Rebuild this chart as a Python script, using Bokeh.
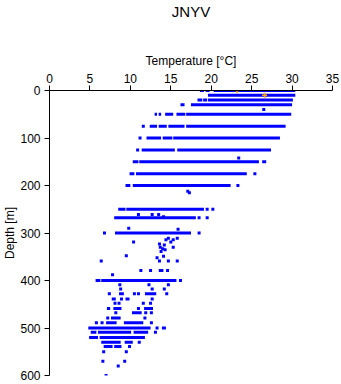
from bokeh.plotting import figure
from bokeh.models import Range1d, LinearAxis, FixedTicker
from bokeh.embed import file_html
from bokeh.resources import INLINE

# Row segments (depth [m], temperature start, temperature end) [°C]
seg_depth = [0, 0, 0, 10, 20, 20, 20, 30, 30,
             50, 50, 50, 50, 50,
             75, 75, 75, 75,
             100, 100, 100,
             125, 125,
             150, 150, 150,
             175, 175,
             200, 200,
             250, 250,
             268,
             300,
             400, 400,
             428, 428, 439, 439, 459, 459, 459, 468, 479, 489, 489,
             500, 500,
             509, 509, 509,
             520, 520,
             530, 530, 539, 539]
seg_tmin = [18.6, 19.3, 20.3, 19.6, 18.3, 19.0, 19.6, 16.2, 17.5,
            13.0, 13.5, 14.3, 15.7, 16.9,
            12.4, 13.5, 14.7, 16.9,
            12.0, 14.0, 15.3,
            11.4, 15.8,
            10.3, 11.1, 26.3,
            9.9, 10.7,
            9.4, 10.3,
            8.5, 9.5,
            8.0,
            8.1,
            5.7, 6.4,
            8.6, 11.8, 7.7, 9.4, 7.1, 7.9, 11.7, 10.2, 7.6, 7.0, 9.2,
            4.8, 13.9,
            5.1, 6.0, 10.4,
            4.9, 6.2,
            6.4, 9.3, 6.7, 8.0]
seg_tmax = [19.1, 19.8, 30.4, 30.4, 18.9, 19.5, 30.1, 16.7, 30.0,
            13.3, 13.8, 15.3, 16.8, 29.9,
            13.3, 14.5, 16.7, 29.2,
            13.8, 15.2, 28.5,
            15.5, 27.4,
            11.0, 25.9, 26.8,
            10.5, 24.4,
            10.0, 22.4,
            9.4, 19.1,
            18.1,
            17.5,
            6.3, 15.7,
            9.2, 13.2, 8.2, 9.9, 7.5, 8.9, 12.8, 11.4, 8.8, 8.3, 11.6,
            12.5, 14.4,
            5.8, 10.1, 12.2,
            6.0, 11.8,
            8.8, 10.3, 7.8, 8.9]

# Individual observations (depth [m], temperature [°C])
pt_depth = [40, 142, 75, 100, 125, 175, 200, 212, 215, 250, 250,
            261, 261, 261, 266, 268, 268, 290, 292, 300, 300,
            319, 348, 359,
            323, 330, 339, 333, 325, 314, 311, 319, 314, 311, 330, 335, 349, 352, 359, 359, 359,
            379, 379, 379, 379, 379, 388, 400,
            409, 409, 409, 418, 418, 418, 428, 428, 428, 428,
            439, 439, 448, 448, 448, 448, 459, 468, 468, 468, 479, 479,
            489, 489, 489, 500, 509, 530, 539, 550, 550, 570, 570, 580, 600]
pt_temp = [26.5, 23.4, 11.6, 11.2, 10.9, 25.4, 23.3, 17.1, 17.3, 19.5, 20.2,
           11.0, 12.7, 13.5, 14.1, 18.5, 19.5, 9.8, 15.9, 6.8, 18.5,
           10.4, 9.5, 6.4,
           13.6, 13.7, 13.8, 14.0, 14.2, 14.4, 14.7, 15.0, 15.3, 15.8, 15.3, 14.3, 14.1, 13.3, 13.6, 14.7, 15.8,
           11.3, 12.5, 13.7, 13.9, 14.6, 7.8, 16.2,
           8.7, 12.3, 14.7, 8.8, 12.7, 14.2, 7.4, 10.5, 11.0, 14.5,
           8.9, 12.7, 8.1, 8.6, 11.6, 12.5, 11.0, 8.2, 11.9, 12.6, 7.2, 11.8,
           5.8, 6.5, 12.6, 13.3, 13.1, 11.1, 9.9, 6.7, 9.5, 6.6, 9.3, 8.5, 7.0]

# Highlighted observations
hl_depth = [0, 10]
hl_temp = [23.2, 26.6]

x_ticks = [0, 5, 10, 15, 20, 25, 30, 35]
y_ticks = [0, 100, 200, 300, 400, 500, 600]

FONT = "Liberation Sans"
BLUE = "#0000FF"

p = figure(width=341, height=384, output_backend="svg", toolbar_location=None,
           x_range=Range1d(0, 35), y_range=Range1d(600, 0),
           x_axis_location=None, y_axis_location=None,
           min_border_left=48, min_border_right=9, min_border_top=90, min_border_bottom=9)
p.outline_line_color = None
p.grid.visible = False
p.background_fill_color = "white"
p.border_fill_color = "white"

p.title.text = "JNYV"
p.title.align = "center"
p.title.vertical_align = "top"
p.title.text_font = FONT
p.title.text_font_size = "15px"
p.title.text_font_style = "normal"
p.title.text_color = "black"
p.title.standoff = 4
p.title.padding = (0, 0, 0, 27)

xa = LinearAxis(axis_label="Temperature [°C]", ticker=FixedTicker(ticks=x_ticks))
ya = LinearAxis(axis_label="Depth [m]", ticker=FixedTicker(ticks=y_ticks))
for ax in (xa, ya):
    ax.axis_label_text_font = FONT
    ax.axis_label_text_font_size = "12px"
    ax.axis_label_text_font_style = "normal"
    ax.axis_label_text_color = "black"
    ax.major_label_text_font = FONT
    ax.major_label_text_font_size = "12px"
    ax.major_label_text_color = "black"
    ax.axis_line_color = "black"
    ax.major_tick_line_color = "black"
    ax.major_tick_out = 5
    ax.major_tick_in = 0
    ax.minor_tick_line_color = None
xa.axis_label_standoff = 3
xa.major_label_standoff = 3
ya.axis_label_standoff = 0
ya.major_label_standoff = 4
p.add_layout(xa, "above")
p.add_layout(ya, "left")

p.segment(x0=seg_tmin, y0=seg_depth, x1=seg_tmax, y1=seg_depth,
          line_color=BLUE, line_width=3)
p.scatter(x=pt_temp, y=pt_depth, marker="square", size=3,
          fill_color=BLUE, line_color=None)
p.scatter(x=hl_temp, y=hl_depth, marker="cross", size=5,
          line_color="orange", line_width=1.5)

open("out.html", "w").write(file_html(p, INLINE))
